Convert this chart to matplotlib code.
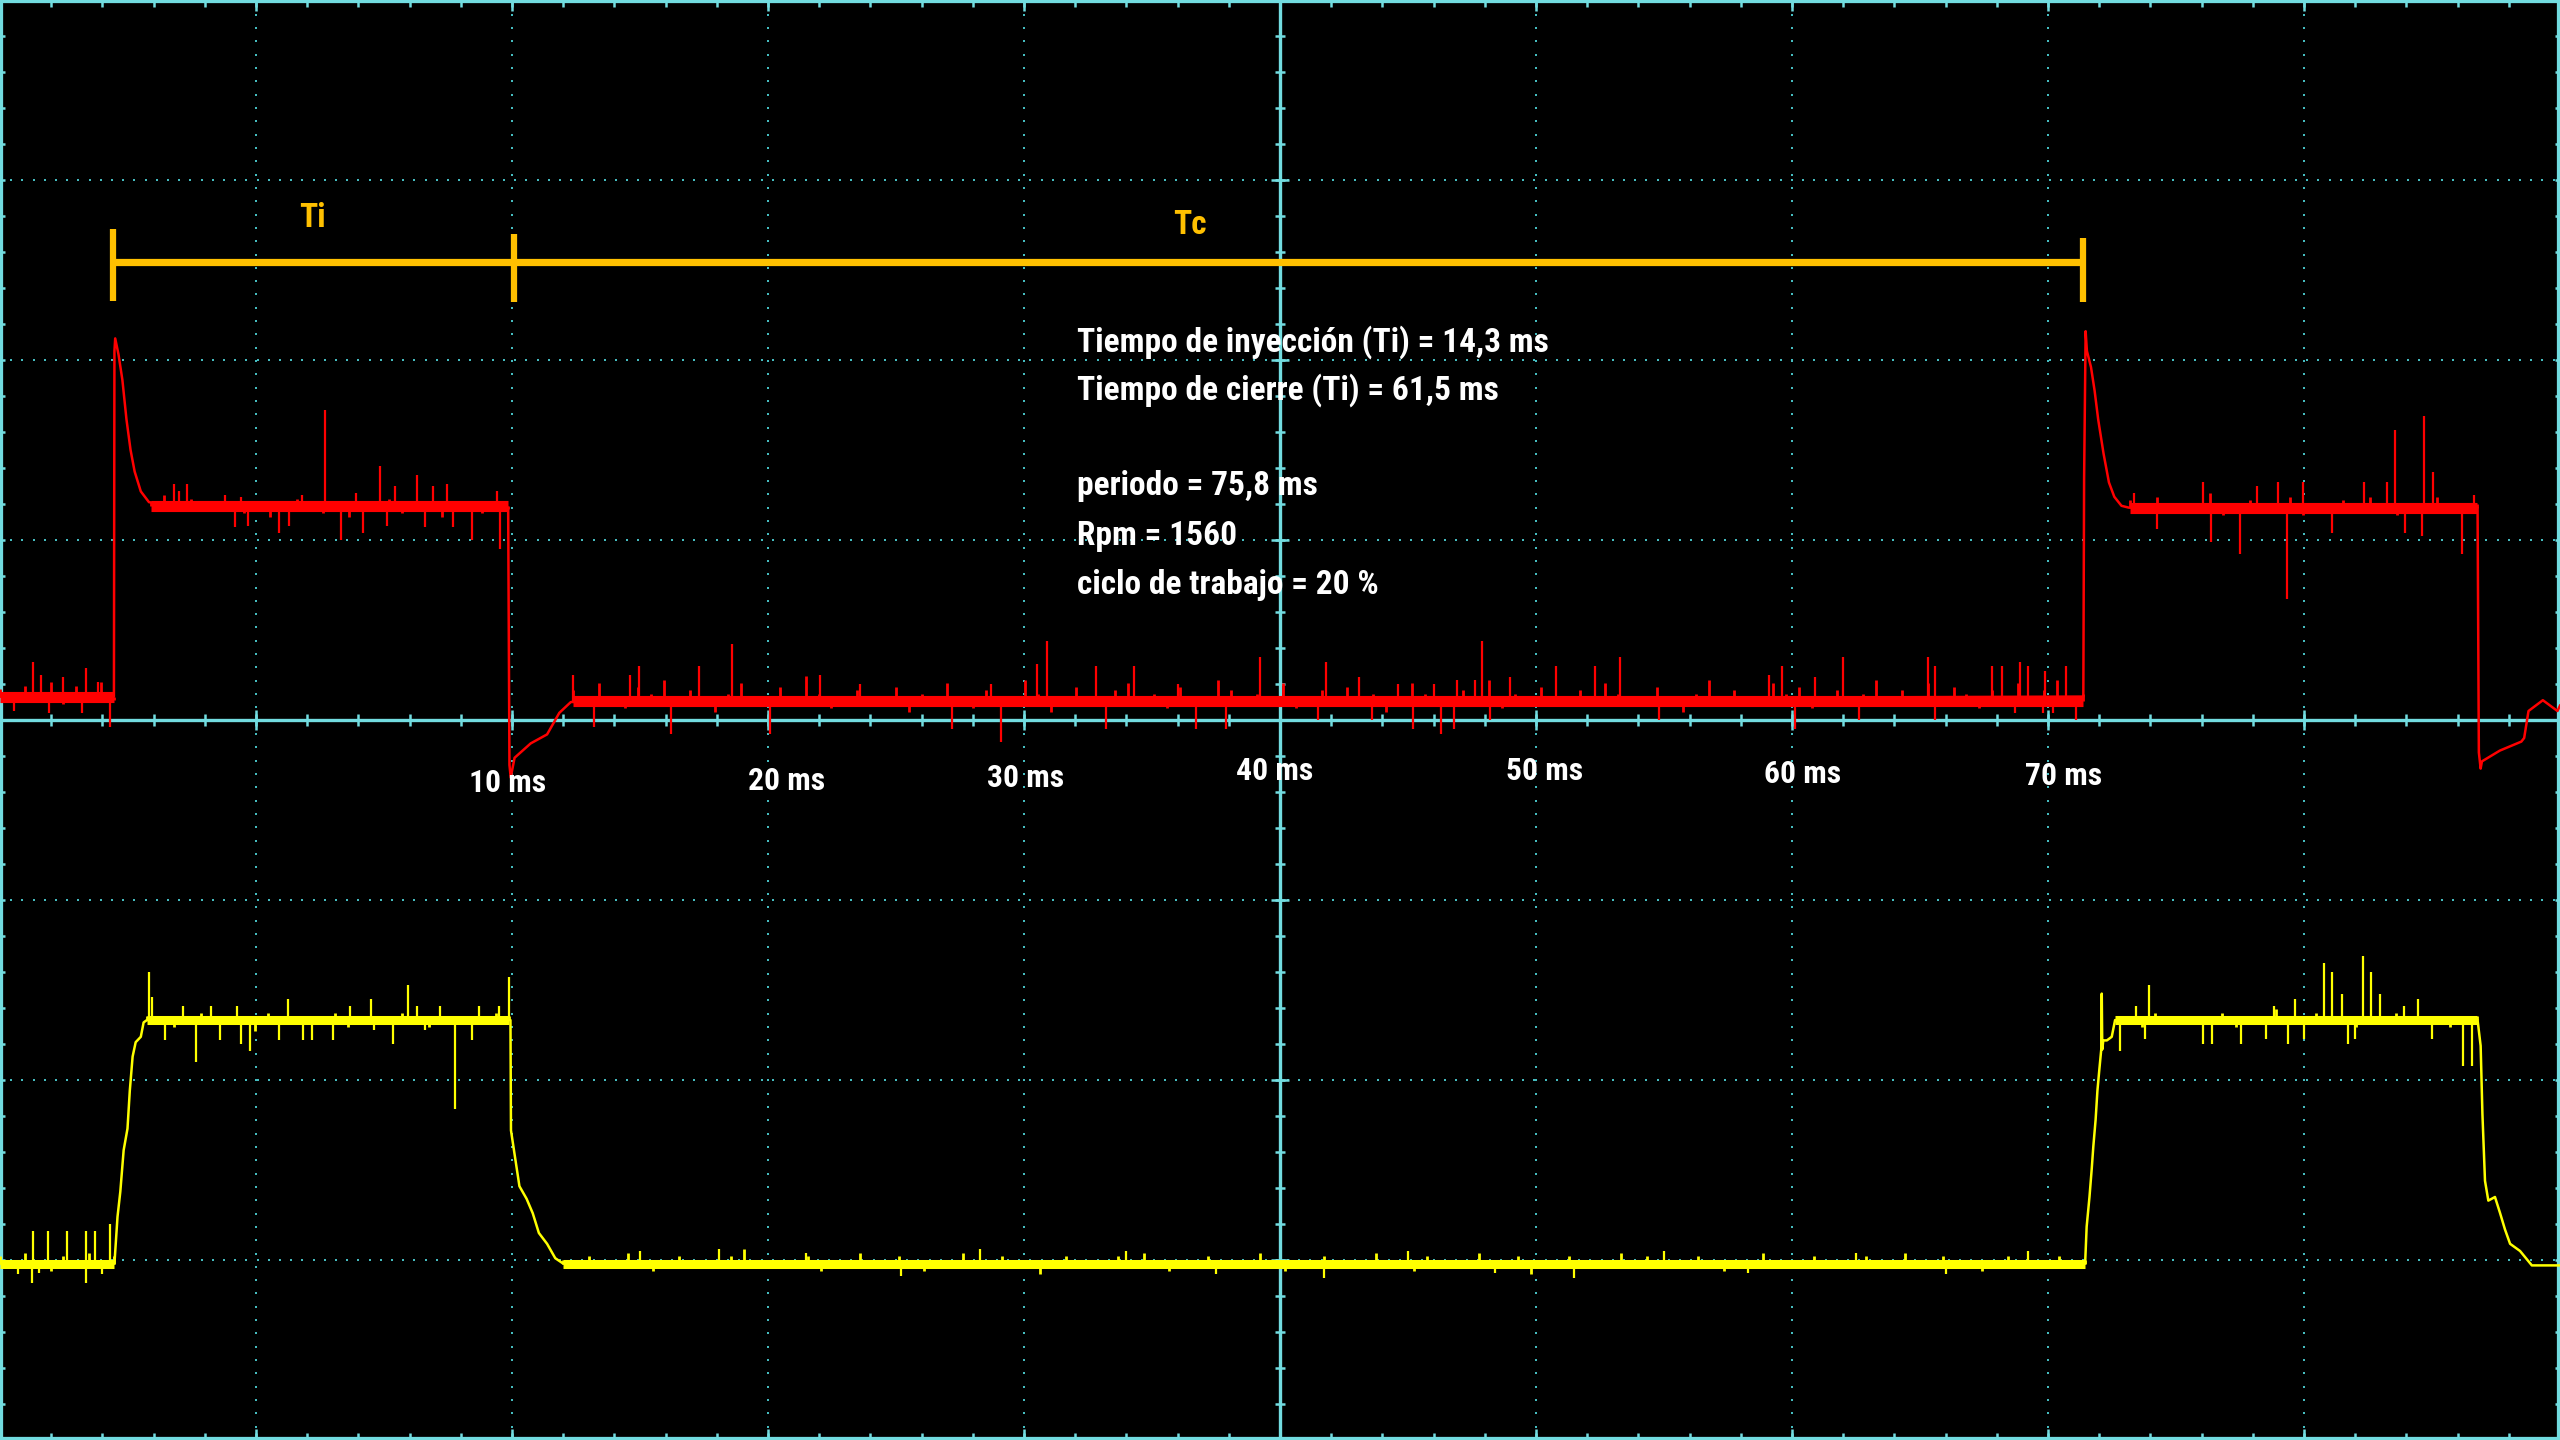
import numpy as np
import matplotlib
matplotlib.use('Agg')
import matplotlib.pyplot as plt
from matplotlib import font_manager

OUTPUT_FILE = 'out.png'
FONT_CANDIDATES = ['Liberation Sans Narrow', 'DejaVu Sans Condensed', 'Roboto Condensed',
                   'Open Sans Condensed', 'Liberation Sans']

# screen: 10 divisions of 10 ms across, 8 divisions vertical (values in divisions)

# channel 1 (red) main shape, time in ms, value in divisions
RED_T = [0.0, 4.45, 4.47, 4.50, 4.63, 4.78, 4.94, 5.10, 5.26, 5.50, 5.82, 6.40, 19.85, 19.90,
         19.95, 20.10, 20.73, 21.37, 21.85, 22.30, 81.38, 81.41, 81.47, 81.52, 81.68, 81.82,
         81.96, 82.17, 82.38, 82.59, 82.87, 83.15, 96.78, 96.83, 96.90, 96.95, 97.65, 98.49,
         98.60, 98.77, 99.33, 99.90, 100.0]
RED_V = [0.13, 0.13, 2.05, 2.12, 2.03, 1.89, 1.67, 1.50, 1.38, 1.27, 1.21, 1.20, 1.18, -0.25,
         -0.32, -0.21, -0.13, -0.08, 0.04, 0.10, 0.13, 1.34, 2.16, 2.05, 1.96, 1.83,
         1.67, 1.48, 1.32, 1.24, 1.19, 1.18, 1.18, -0.18, -0.27, -0.23, -0.17, -0.12,
         -0.10, 0.05, 0.11, 0.05, 0.08]

# channel 2 (yellow) main shape
YEL_T = [0.0, 4.47, 4.59, 4.70, 4.83, 4.98, 5.07, 5.18, 5.30, 5.50, 5.61, 5.74, 19.94, 19.96,
         20.13, 20.29, 20.57, 20.81, 21.05, 21.37, 21.69, 22.0, 81.45, 81.51, 81.62, 81.71,
         81.77, 81.86, 81.93, 82.0, 82.08, 82.10, 82.12, 82.16, 82.30, 82.49, 82.62, 96.78,
         96.90, 96.97, 97.07, 97.20, 97.46, 97.66, 97.85, 98.05, 98.44, 98.90, 100.0]
YEL_V = [-3.02, -3.02, -2.76, -2.62, -2.39, -2.27, -2.06, -1.87, -1.79, -1.76, -1.68, -1.667,
         -1.667, -2.28, -2.44, -2.59, -2.66, -2.74, -2.85, -2.91, -2.99, -3.02, -3.02, -2.815,
         -2.65, -2.49, -2.37, -2.22, -2.06, -1.95, -1.83, -1.52, -1.83, -1.78, -1.78, -1.76,
         -1.667, -1.667, -1.81, -2.19, -2.56, -2.67, -2.65, -2.74, -2.83, -2.91, -2.95, -3.03,
         -3.03]

# flat parts of each trace and the jitter on them (fiftieths of a division)
RED_FLAT_START = [0.0, 5.9, 22.4, 83.2]
RED_FLAT_END = [4.45, 19.85, 81.35, 96.75]
RED_FLAT_LEVEL = [0.13, 1.19, 0.105, 1.18]
RED_FUZZ = [
    [2, -1, 3, 0, 4, -2, 3, 1, 4, -1],
    [1, 3, 0, 2, -1, 1, 0, -2, 1, -3, 0, 2, -1, -2, 1, -3, 0, -1, 2, -2, 1, 0, -3, 1, 0, -2, 1, -1],
    [3, 0, 5, 1, -2, 4, 2, 6, -1, 3, 0, -3, 2, 5, 1, -1, 4, 0, 7, 2,
     -2, 1, 3, -1, 0, 4, -3, 2, 1, 5, 0, -2, 3, 1, -1, 6, 2, -3, 0, 4,
     1, -1, 3, 5, 0, 2, -2, 4, 1, 0, 6, 3, -1, 2, 0, 5, -2, 1, 3, -1,
     4, 0, 2, -3, 1, 5, 2, -1, 0, 3, 1, 6, -2, 2, 0, 4, 1, -1, 3, 0,
     5, 2, -1, 1, 4, 0, -3, 2, 6, 1, 3, -1, 0, 5, 2, 4, -2, 1, 3, 0,
     2, 6, -1, 3, 1, 5, 0, 4, 2, -2, 3, 1, 5, 0, 3, 6, 1, 2],
    [2, 0, 3, -1, 1, 0, 4, -2, 1, 2, -1, 0, 3, -2, 1, 0, 2, -1, 3, 0, -2, 1, 0, 3, -1, 0, 1],
]

YEL_FLAT_START = [0.0, 5.75, 22.0, 82.62]
YEL_FLAT_END = [4.45, 19.9, 81.45, 96.75]
YEL_FLAT_LEVEL = [-3.02, -1.667, -3.02, -1.667]
YEL_FUZZ = [
    [2, -1, 3, 0, -2, 2, 1, 3, -1, 2],
    [1, 0, -2, 1, 2, -1, 0, 1, -3, 2, 0, -1, 1, 0, 2, -2, 0, 1, -1, 2, 0, -2, 1, 0, 1, -1, 2, 1],
    [1, 0, 2, -1, 0, 3, 1, -2, 0, 2, 1, -1, 0, 2, 4, 0, -1, 1, 0, 2,
     -2, 1, 0, 3, -1, 0, 2, 1, -2, 0, 1, 3, 0, -1, 2, 0, 1, -3, 0, 2,
     1, 0, -1, 2, 0, 3, 1, -2, 0, 1, 2, -1, 0, 1, 3, 0, -2, 1, 0, 2,
     1, -1, 0, 3, 1, 0, -2, 2, 0, 1, -1, 3, 0, 1, 2, -3, 0, 1, 2, 0,
     -1, 1, 3, 0, 2, -1, 0, 1, 2, 0, -2, 1, 0, 3, 1, -1, 0, 2, 1, 0,
     -1, 2, 0, 1, 3, -1, 0, 2, 1, 0, -2, 1, 2, 0, 1, -1, 2, 0, 1],
    [0, 1, -2, 2, 0, 1, -1, 0, 2, -2, 1, 0, 3, 1, -1, 2, 0, 1, -2, 0, 1, 2, -1, 0, 1, -2, 0, 1],
]
FUZZ_UNIT = 0.02

# single-sample glitches: time (ms) and tip value (divisions)
RED_SPIKE_T = [1.28, 1.60, 2.47, 3.35, 3.83, 0.56, 1.91, 3.19, 4.31,
               6.78, 7.30, 7.00, 8.80, 9.40, 11.80, 12.68, 13.90, 14.83, 15.44, 16.30, 16.90,
               17.46, 19.40, 9.17, 10.89, 13.32, 14.19, 18.42, 19.54, 11.30, 9.70, 15.10,
               16.60, 17.70,
               22.4, 24.6, 24.98, 27.3, 28.6, 32.05, 33.6, 38.7, 40.5, 40.9, 42.8, 44.3, 46.0,
               49.2, 51.8, 53.1, 54.6, 56.0, 56.9, 57.6, 57.9, 59.0, 60.8, 62.3, 63.3, 69.1,
               69.6, 70.9, 72.0, 75.3, 75.6, 77.8, 78.2, 78.9, 79.2, 79.9, 80.7,
               23.2, 26.2, 30.06, 37.2, 39.1, 43.2, 46.7, 47.9, 51.5, 53.6, 55.2, 56.3, 56.8,
               58.2, 64.8, 70.1, 72.6, 75.6, 78.7, 79.8, 80.2, 81.1,
               83.35, 86.05, 88.17, 89.0, 89.98, 92.35, 93.26, 93.57, 94.69, 95.05, 96.64,
               84.26, 86.38, 87.51, 89.35, 91.1, 93.93, 94.6, 96.19]
RED_SPIKE_V = [0.32, 0.25, 0.24, 0.29, 0.21, 0.05, 0.04, 0.04, -0.04,
               1.31, 1.31, 1.27, 1.25, 1.24, 1.25, 1.72, 1.26, 1.41, 1.30, 1.36, 1.30,
               1.31, 1.27, 1.07, 1.04, 1.00, 1.04, 1.00, 0.95, 1.08, 1.08, 1.08,
               1.07, 1.07,
               0.25, 0.25, 0.30, 0.30, 0.42, 0.25, 0.20, 0.20, 0.31, 0.44, 0.30, 0.30, 0.20,
               0.35, 0.32, 0.24, 0.20, 0.20, 0.22, 0.22, 0.44, 0.24, 0.30, 0.30, 0.35, 0.25,
               0.30, 0.24, 0.35, 0.35, 0.30, 0.30, 0.30, 0.32, 0.30, 0.27, 0.30,
               -0.04, -0.08, -0.08, -0.05, -0.12, -0.05, -0.05, -0.05, 0.0, 0.0, -0.05, -0.08,
               -0.05, 0.0, 0.0, -0.05, 0.0, 0.0, 0.04, 0.04, 0.04, 0.0,
               1.26, 1.32, 1.30, 1.32, 1.32, 1.32, 1.32, 1.61, 1.69, 1.38, 1.25,
               1.06, 0.99, 0.92, 0.67, 1.04, 1.04, 1.02, 0.92]

YEL_SPIKE_T = [1.28, 1.88, 2.60, 3.35, 3.70, 4.30, 0.72, 1.24, 3.35, 3.99, 1.52,
               5.82, 5.93, 7.13, 8.26, 9.25, 11.26, 13.68, 14.48, 15.95, 16.3, 17.2, 18.7,
               19.5, 19.88, 6.43, 7.66, 8.61, 9.41, 9.76, 10.9, 11.83, 12.2, 13.0, 14.6, 15.34,
               16.59, 17.78, 18.42,
               25.0, 28.1, 31.5, 35.2, 38.3, 44.0, 47.5, 51.7, 55.0, 58.4, 61.5, 65.0, 68.3,
               72.5, 76.0, 79.2,
               83.42, 83.93, 88.83, 89.65, 90.8, 91.1, 91.47, 92.3, 92.6, 92.95, 93.9, 94.45,
               82.81, 83.77, 86.04, 86.4, 87.53, 88.5, 89.36, 90.0, 91.7, 92.0, 95.0, 96.2,
               96.55]
YEL_SPIKE_V = [-2.84, -2.84, -2.84, -2.84, -2.84, -2.80, -3.08, -3.13, -3.13, -3.08, -3.07,
               -1.40, -1.54, -1.59, -1.59, -1.59, -1.55, -1.59, -1.55, -1.47, -1.59, -1.59,
               -1.59, -1.59, -1.43, -1.78, -1.90, -1.78, -1.80, -1.84, -1.78, -1.78, -1.78,
               -1.78, -1.72, -1.80, -1.72, -2.16, -1.78,
               -2.95, -2.94, -2.96, -3.09, -2.94, -2.95, -3.08, -3.10, -2.95, -3.07, -3.10,
               -2.95, -3.07, -2.96, -3.08, -2.95,
               -1.59, -1.47, -1.59, -1.55, -1.35, -1.40, -1.52, -1.31, -1.40, -1.52, -1.59,
               -1.55,
               -1.84, -1.77, -1.80, -1.80, -1.80, -1.77, -1.80, -1.77, -1.80, -1.77, -1.77,
               -1.92, -1.92]

# measurement annotations
TIME_LABELS = ['10 ms', '20 ms', '30 ms', '40 ms', '50 ms', '60 ms', '70 ms']
TIME_LABEL_T = [19.84, 30.72, 40.08, 49.79, 60.35, 70.42, 80.59]
TIME_LABEL_V = [-0.40, -0.389, -0.37, -0.333, -0.333, -0.348, -0.361]

INFO_LINES = ['Tiempo de inyección (Ti) = 14,3 ms',
              'Tiempo de cierre (Ti) = 61,5 ms',
              'periodo = 75,8 ms',
              'Rpm = 1560',
              'ciclo de trabajo = 20 %']
INFO_V = [2.046, 1.78, 1.25, 0.97, 0.70]
INFO_T = 42.06

MARK_T = [4.41, 20.08, 81.38]
MARK_TOP = [2.73, 2.70, 2.68]
MARK_BOTTOM = [2.33, 2.32, 2.32]
MARK_LEVEL = 2.547
MARK_NAMES = ['Ti', 'Tc']
MARK_NAME_T = [12.2, 46.5]
MARK_NAME_V = [2.79, 2.75]

BG = 'black'
GRID_SOLID = '#72dce0'
GRID_DOT = '#45bcc0'
RED = '#ff0000'
YELLOW = '#ffff00'
AMBER = '#ffc000'

DX = 100 / 2560  # ms per pixel
DY = 8 / 1440    # divisions per pixel

INFO_WIDTH_PX = 469   # width of the first info line on screen
LABEL_WIDTH_PX = 77   # width of one 'NN ms' label


def pick_font():
    for name in FONT_CANDIDATES:
        try:
            font_manager.findfont(font_manager.FontProperties(family=name, weight='bold'),
                                  fallback_to_default=False)
            return name
        except ValueError:
            continue
    return 'DejaVu Sans'


def fit_size(fig, ax, text, family, width_px):
    #measure text at 20 pt and scale to the wanted pixel width
    probe = ax.text(0, 0, text, fontsize=20, fontweight='bold', family=family)
    fig.canvas.draw()
    w = probe.get_window_extent().width
    probe.remove()
    return 20 * width_px / w


def draw_graticule(ax):
    #dotted division lines
    dot_t = np.arange(0, 100.001, 0.4375)
    dot_v = np.arange(-4, 4.001, 0.074)
    for v in [-3, -2, -1, 1, 2, 3]:
        ax.plot(dot_t, np.full_like(dot_t, v), ls='none', marker='s', ms=2.0, mew=0,
                color=GRID_DOT, zorder=1)
    for t in [10, 20, 30, 40, 60, 70, 80, 90]:
        ax.plot(np.full_like(dot_v, t), dot_v, ls='none', marker='s', ms=2.0, mew=0,
                color=GRID_DOT, zorder=1)

    #solid centre cross and frame
    ax.axhline(0, color=GRID_SOLID, lw=2.4, zorder=2)
    ax.axvline(50, color=GRID_SOLID, lw=2.4, zorder=2)
    ax.plot([0, 100, 100, 0, 0], [-4, -4, 4, 4, -4], color=GRID_SOLID, lw=4.5,
            clip_on=False, zorder=2)

    #small ticks, five per division
    minor_t = np.arange(0, 100.001, 2)
    minor_v = np.arange(-4, 4.001, 0.2)
    major_t = np.arange(0, 100.001, 10)
    major_v = np.arange(-4, 4.001, 1)
    kw = dict(color=GRID_SOLID, lw=1.8, zorder=2)
    ax.vlines(minor_t, -6 * DY, 6 * DY, **kw)
    ax.vlines(major_t, -10 * DY, 10 * DY, **kw)
    ax.hlines(minor_v, 50 - 5 * DX, 50 + 5 * DX, **kw)
    ax.hlines(major_v, 50 - 9 * DX, 50 + 9 * DX, **kw)
    ax.vlines(minor_t, -4, -4 + 7 * DY, **kw)
    ax.vlines(major_t, -4, -4 + 11 * DY, **kw)
    ax.vlines(minor_t, 4 - 7 * DY, 4, **kw)
    ax.vlines(major_t, 4 - 11 * DY, 4, **kw)
    ax.hlines(minor_v, 0, 5 * DX, **kw)
    ax.hlines(minor_v, 100 - 5 * DX, 100, **kw)


def draw_trace(ax, t, v, starts, ends, levels, fuzz, spike_t, spike_v, color, core, z):
    ax.plot(t, v, color=color, lw=1.8, zorder=z)

    #jitter on the flat parts: a thick core with short strokes off it
    for t0, t1, level, offs in zip(starts, ends, levels, fuzz):
        ax.hlines(level, t0, t1, color=color, lw=core, zorder=z)
        ft = np.linspace(t0, t1, len(offs))
        fv = level + np.array(offs) * FUZZ_UNIT
        ax.vlines(ft, level, fv, color=color, lw=2.0, zorder=z)

    #glitches drawn from the flat level they sit on
    for st, sv in zip(spike_t, spike_v):
        for t0, t1, level in zip(starts, ends, levels):
            if t0 <= st <= t1:
                ax.vlines(st, level, sv, color=color, lw=1.6, zorder=z)
                break


def main():
    fig = plt.figure(figsize=(25.6, 14.4), dpi=100, facecolor=BG)
    ax = fig.add_axes([0, 0, 1, 1])
    ax.set_facecolor(BG)
    ax.set_xlim(0, 100)
    ax.set_ylim(-4, 4)
    ax.set_axis_off()

    family = pick_font()
    info_size = fit_size(fig, ax, INFO_LINES[0], family, INFO_WIDTH_PX)
    label_size = fit_size(fig, ax, TIME_LABELS[3], family, LABEL_WIDTH_PX)

    draw_graticule(ax)

    draw_trace(ax, RED_T, RED_V, RED_FLAT_START, RED_FLAT_END, RED_FLAT_LEVEL, RED_FUZZ,
               RED_SPIKE_T, RED_SPIKE_V, RED, 8.0, 4)
    draw_trace(ax, YEL_T, YEL_V, YEL_FLAT_START, YEL_FLAT_END, YEL_FLAT_LEVEL, YEL_FUZZ,
               YEL_SPIKE_T, YEL_SPIKE_V, YELLOW, 6.5, 4)

    #Ti / Tc bracket
    ax.hlines(MARK_LEVEL, MARK_T[0], MARK_T[-1], color=AMBER, lw=5.2, zorder=6)
    ax.vlines(MARK_T, MARK_BOTTOM, MARK_TOP, color=AMBER, lw=4.5, zorder=6)
    for name, t, v in zip(MARK_NAMES, MARK_NAME_T, MARK_NAME_V):
        ax.text(t, v, name, color=AMBER, fontsize=24, fontweight='bold', family=family,
                ha='center', va='center', zorder=7)

    #measurement text
    for line, v in zip(INFO_LINES, INFO_V):
        ax.text(INFO_T, v, line, color='white', fontsize=info_size, fontweight='bold',
                family=family, ha='left', va='baseline', zorder=7)

    #time labels under the zero line
    for label, t, v in zip(TIME_LABELS, TIME_LABEL_T, TIME_LABEL_V):
        ax.text(t, v, label, color='white', fontsize=label_size, fontweight='bold',
                family=family, ha='center', va='baseline', zorder=7)

    fig.savefig(OUTPUT_FILE, dpi=100, facecolor=BG)
    plt.close(fig)


if __name__ == "__main__":
    main()
